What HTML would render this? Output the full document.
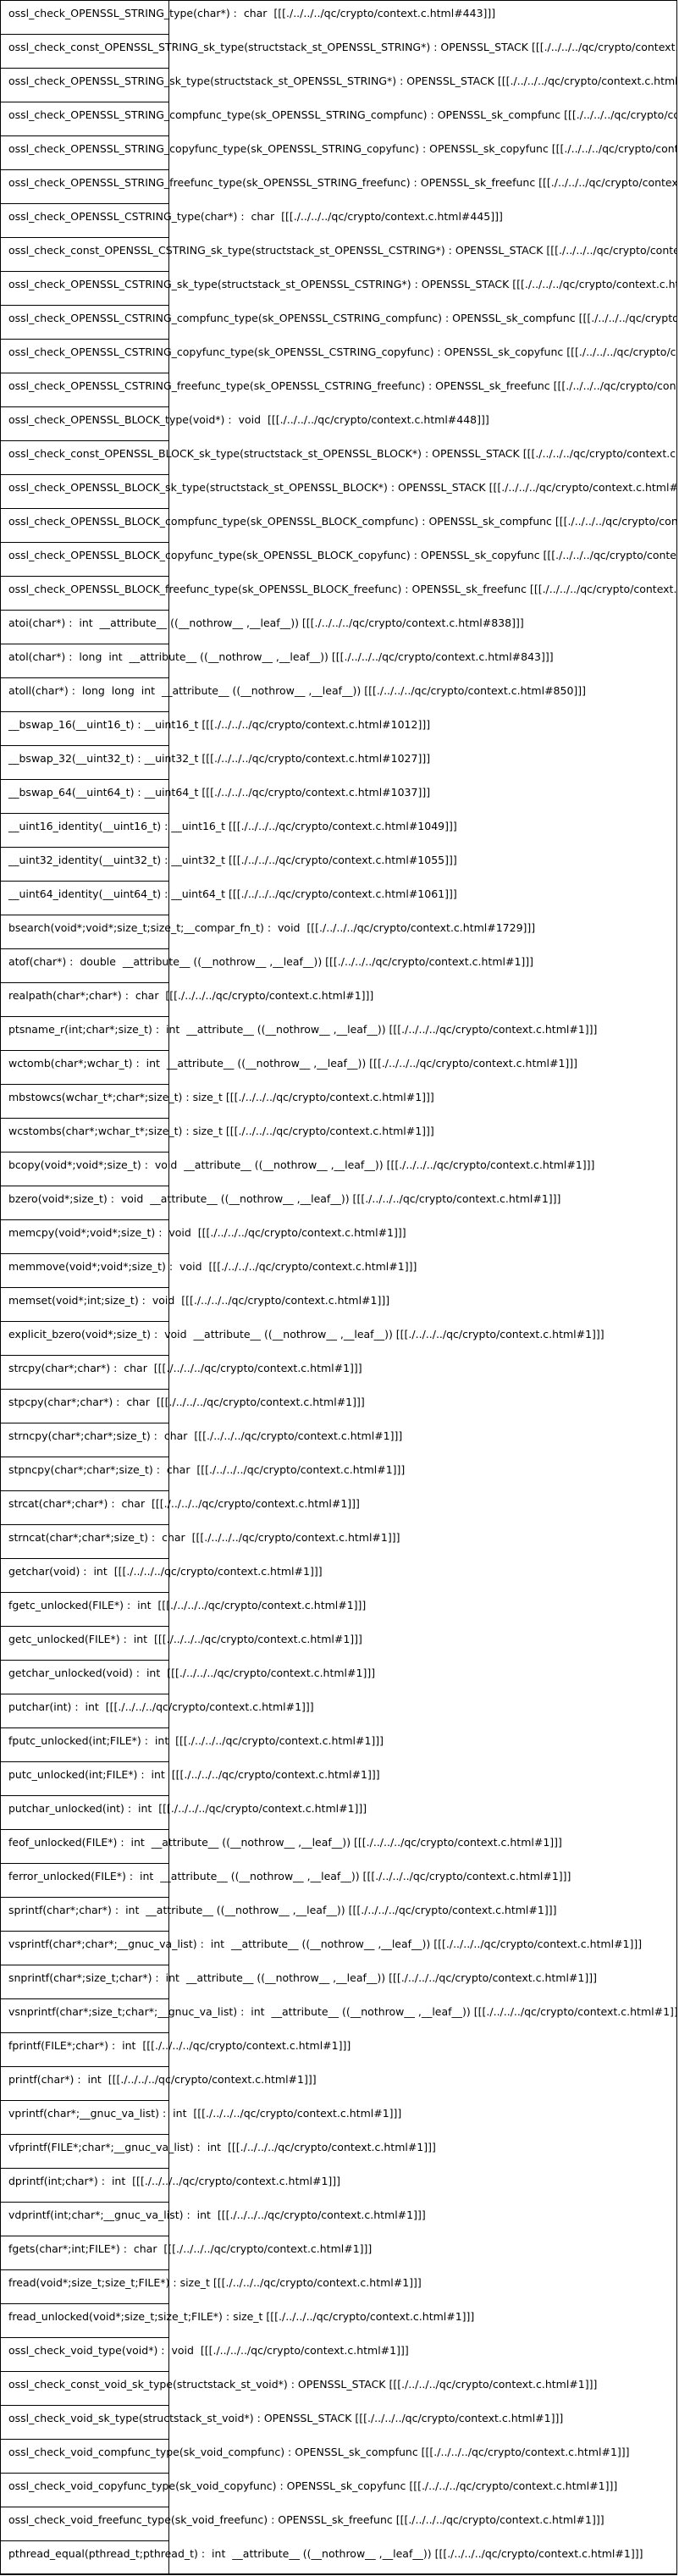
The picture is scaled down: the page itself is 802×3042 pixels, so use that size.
<!DOCTYPE html>
<html><head><meta charset="utf-8"><style>
html,body{margin:0;padding:0;background:#fff;}
#w{position:relative;width:802px;height:3042px;overflow:hidden;}
#outer{position:absolute;left:0;top:0;width:799px;height:3039px;border-right:1px solid #000;border-bottom:2px solid #000;}
#col{position:absolute;left:0;top:0;width:200px;height:3040px;border-right:1px solid #000;border-left:1px solid #000;box-sizing:border-box;}
#txt{position:absolute;left:0;top:0;width:799px;height:3040px;overflow:hidden;}
.t{position:absolute;left:10px;height:14px;line-height:14px;font-family:"DejaVu Sans","Liberation Sans",sans-serif;font-size:12.5px;white-space:pre;color:#000;}
</style></head><body><div id="w">
<div id="outer"></div>
<div id="col"></div>
<div id="txt">
<div class="t" style="top:9px">ossl_check_OPENSSL_STRING_type(char*) :  char  [[[./../../../qc/crypto/context.c.html#443]]]</div>
<div class="t" style="top:49px">ossl_check_const_OPENSSL_STRING_sk_type(structstack_st_OPENSSL_STRING*) : OPENSSL_STACK [[[./../../../qc/crypto/context.c.html#443]]]</div>
<div class="t" style="top:89px">ossl_check_OPENSSL_STRING_sk_type(structstack_st_OPENSSL_STRING*) : OPENSSL_STACK [[[./../../../qc/crypto/context.c.html#443]]]</div>
<div class="t" style="top:129px">ossl_check_OPENSSL_STRING_compfunc_type(sk_OPENSSL_STRING_compfunc) : OPENSSL_sk_compfunc [[[./../../../qc/crypto/context.c.html#443]]]</div>
<div class="t" style="top:169px">ossl_check_OPENSSL_STRING_copyfunc_type(sk_OPENSSL_STRING_copyfunc) : OPENSSL_sk_copyfunc [[[./../../../qc/crypto/context.c.html#443]]]</div>
<div class="t" style="top:209px">ossl_check_OPENSSL_STRING_freefunc_type(sk_OPENSSL_STRING_freefunc) : OPENSSL_sk_freefunc [[[./../../../qc/crypto/context.c.html#443]]]</div>
<div class="t" style="top:249px">ossl_check_OPENSSL_CSTRING_type(char*) :  char  [[[./../../../qc/crypto/context.c.html#445]]]</div>
<div class="t" style="top:289px">ossl_check_const_OPENSSL_CSTRING_sk_type(structstack_st_OPENSSL_CSTRING*) : OPENSSL_STACK [[[./../../../qc/crypto/context.c.html#445]]]</div>
<div class="t" style="top:329px">ossl_check_OPENSSL_CSTRING_sk_type(structstack_st_OPENSSL_CSTRING*) : OPENSSL_STACK [[[./../../../qc/crypto/context.c.html#445]]]</div>
<div class="t" style="top:369px">ossl_check_OPENSSL_CSTRING_compfunc_type(sk_OPENSSL_CSTRING_compfunc) : OPENSSL_sk_compfunc [[[./../../../qc/crypto/context.c.html#445]]]</div>
<div class="t" style="top:409px">ossl_check_OPENSSL_CSTRING_copyfunc_type(sk_OPENSSL_CSTRING_copyfunc) : OPENSSL_sk_copyfunc [[[./../../../qc/crypto/context.c.html#445]]]</div>
<div class="t" style="top:449px">ossl_check_OPENSSL_CSTRING_freefunc_type(sk_OPENSSL_CSTRING_freefunc) : OPENSSL_sk_freefunc [[[./../../../qc/crypto/context.c.html#445]]]</div>
<div class="t" style="top:489px">ossl_check_OPENSSL_BLOCK_type(void*) :  void  [[[./../../../qc/crypto/context.c.html#448]]]</div>
<div class="t" style="top:529px">ossl_check_const_OPENSSL_BLOCK_sk_type(structstack_st_OPENSSL_BLOCK*) : OPENSSL_STACK [[[./../../../qc/crypto/context.c.html#448]]]</div>
<div class="t" style="top:569px">ossl_check_OPENSSL_BLOCK_sk_type(structstack_st_OPENSSL_BLOCK*) : OPENSSL_STACK [[[./../../../qc/crypto/context.c.html#448]]]</div>
<div class="t" style="top:609px">ossl_check_OPENSSL_BLOCK_compfunc_type(sk_OPENSSL_BLOCK_compfunc) : OPENSSL_sk_compfunc [[[./../../../qc/crypto/context.c.html#448]]]</div>
<div class="t" style="top:649px">ossl_check_OPENSSL_BLOCK_copyfunc_type(sk_OPENSSL_BLOCK_copyfunc) : OPENSSL_sk_copyfunc [[[./../../../qc/crypto/context.c.html#448]]]</div>
<div class="t" style="top:689px">ossl_check_OPENSSL_BLOCK_freefunc_type(sk_OPENSSL_BLOCK_freefunc) : OPENSSL_sk_freefunc [[[./../../../qc/crypto/context.c.html#448]]]</div>
<div class="t" style="top:729px">atoi(char*) :  int  __attribute__ ((__nothrow__ ,__leaf__)) [[[./../../../qc/crypto/context.c.html#838]]]</div>
<div class="t" style="top:769px">atol(char*) :  long  int  __attribute__ ((__nothrow__ ,__leaf__)) [[[./../../../qc/crypto/context.c.html#843]]]</div>
<div class="t" style="top:809px">atoll(char*) :  long  long  int  __attribute__ ((__nothrow__ ,__leaf__)) [[[./../../../qc/crypto/context.c.html#850]]]</div>
<div class="t" style="top:849px">__bswap_16(__uint16_t) : __uint16_t [[[./../../../qc/crypto/context.c.html#1012]]]</div>
<div class="t" style="top:889px">__bswap_32(__uint32_t) : __uint32_t [[[./../../../qc/crypto/context.c.html#1027]]]</div>
<div class="t" style="top:929px">__bswap_64(__uint64_t) : __uint64_t [[[./../../../qc/crypto/context.c.html#1037]]]</div>
<div class="t" style="top:969px">__uint16_identity(__uint16_t) : __uint16_t [[[./../../../qc/crypto/context.c.html#1049]]]</div>
<div class="t" style="top:1009px">__uint32_identity(__uint32_t) : __uint32_t [[[./../../../qc/crypto/context.c.html#1055]]]</div>
<div class="t" style="top:1049px">__uint64_identity(__uint64_t) : __uint64_t [[[./../../../qc/crypto/context.c.html#1061]]]</div>
<div class="t" style="top:1089px">bsearch(void*;void*;size_t;size_t;__compar_fn_t) :  void  [[[./../../../qc/crypto/context.c.html#1729]]]</div>
<div class="t" style="top:1129px">atof(char*) :  double  __attribute__ ((__nothrow__ ,__leaf__)) [[[./../../../qc/crypto/context.c.html#1]]]</div>
<div class="t" style="top:1169px">realpath(char*;char*) :  char  [[[./../../../qc/crypto/context.c.html#1]]]</div>
<div class="t" style="top:1209px">ptsname_r(int;char*;size_t) :  int  __attribute__ ((__nothrow__ ,__leaf__)) [[[./../../../qc/crypto/context.c.html#1]]]</div>
<div class="t" style="top:1249px">wctomb(char*;wchar_t) :  int  __attribute__ ((__nothrow__ ,__leaf__)) [[[./../../../qc/crypto/context.c.html#1]]]</div>
<div class="t" style="top:1289px">mbstowcs(wchar_t*;char*;size_t) : size_t [[[./../../../qc/crypto/context.c.html#1]]]</div>
<div class="t" style="top:1329px">wcstombs(char*;wchar_t*;size_t) : size_t [[[./../../../qc/crypto/context.c.html#1]]]</div>
<div class="t" style="top:1369px">bcopy(void*;void*;size_t) :  void  __attribute__ ((__nothrow__ ,__leaf__)) [[[./../../../qc/crypto/context.c.html#1]]]</div>
<div class="t" style="top:1409px">bzero(void*;size_t) :  void  __attribute__ ((__nothrow__ ,__leaf__)) [[[./../../../qc/crypto/context.c.html#1]]]</div>
<div class="t" style="top:1449px">memcpy(void*;void*;size_t) :  void  [[[./../../../qc/crypto/context.c.html#1]]]</div>
<div class="t" style="top:1489px">memmove(void*;void*;size_t) :  void  [[[./../../../qc/crypto/context.c.html#1]]]</div>
<div class="t" style="top:1529px">memset(void*;int;size_t) :  void  [[[./../../../qc/crypto/context.c.html#1]]]</div>
<div class="t" style="top:1569px">explicit_bzero(void*;size_t) :  void  __attribute__ ((__nothrow__ ,__leaf__)) [[[./../../../qc/crypto/context.c.html#1]]]</div>
<div class="t" style="top:1609px">strcpy(char*;char*) :  char  [[[./../../../qc/crypto/context.c.html#1]]]</div>
<div class="t" style="top:1649px">stpcpy(char*;char*) :  char  [[[./../../../qc/crypto/context.c.html#1]]]</div>
<div class="t" style="top:1689px">strncpy(char*;char*;size_t) :  char  [[[./../../../qc/crypto/context.c.html#1]]]</div>
<div class="t" style="top:1729px">stpncpy(char*;char*;size_t) :  char  [[[./../../../qc/crypto/context.c.html#1]]]</div>
<div class="t" style="top:1769px">strcat(char*;char*) :  char  [[[./../../../qc/crypto/context.c.html#1]]]</div>
<div class="t" style="top:1809px">strncat(char*;char*;size_t) :  char  [[[./../../../qc/crypto/context.c.html#1]]]</div>
<div class="t" style="top:1849px">getchar(void) :  int  [[[./../../../qc/crypto/context.c.html#1]]]</div>
<div class="t" style="top:1889px">fgetc_unlocked(FILE*) :  int  [[[./../../../qc/crypto/context.c.html#1]]]</div>
<div class="t" style="top:1929px">getc_unlocked(FILE*) :  int  [[[./../../../qc/crypto/context.c.html#1]]]</div>
<div class="t" style="top:1969px">getchar_unlocked(void) :  int  [[[./../../../qc/crypto/context.c.html#1]]]</div>
<div class="t" style="top:2009px">putchar(int) :  int  [[[./../../../qc/crypto/context.c.html#1]]]</div>
<div class="t" style="top:2049px">fputc_unlocked(int;FILE*) :  int  [[[./../../../qc/crypto/context.c.html#1]]]</div>
<div class="t" style="top:2089px">putc_unlocked(int;FILE*) :  int  [[[./../../../qc/crypto/context.c.html#1]]]</div>
<div class="t" style="top:2129px">putchar_unlocked(int) :  int  [[[./../../../qc/crypto/context.c.html#1]]]</div>
<div class="t" style="top:2169px">feof_unlocked(FILE*) :  int  __attribute__ ((__nothrow__ ,__leaf__)) [[[./../../../qc/crypto/context.c.html#1]]]</div>
<div class="t" style="top:2209px">ferror_unlocked(FILE*) :  int  __attribute__ ((__nothrow__ ,__leaf__)) [[[./../../../qc/crypto/context.c.html#1]]]</div>
<div class="t" style="top:2249px">sprintf(char*;char*) :  int  __attribute__ ((__nothrow__ ,__leaf__)) [[[./../../../qc/crypto/context.c.html#1]]]</div>
<div class="t" style="top:2289px">vsprintf(char*;char*;__gnuc_va_list) :  int  __attribute__ ((__nothrow__ ,__leaf__)) [[[./../../../qc/crypto/context.c.html#1]]]</div>
<div class="t" style="top:2329px">snprintf(char*;size_t;char*) :  int  __attribute__ ((__nothrow__ ,__leaf__)) [[[./../../../qc/crypto/context.c.html#1]]]</div>
<div class="t" style="top:2369px">vsnprintf(char*;size_t;char*;__gnuc_va_list) :  int  __attribute__ ((__nothrow__ ,__leaf__)) [[[./../../../qc/crypto/context.c.html#1]]]</div>
<div class="t" style="top:2409px">fprintf(FILE*;char*) :  int  [[[./../../../qc/crypto/context.c.html#1]]]</div>
<div class="t" style="top:2449px">printf(char*) :  int  [[[./../../../qc/crypto/context.c.html#1]]]</div>
<div class="t" style="top:2489px">vprintf(char*;__gnuc_va_list) :  int  [[[./../../../qc/crypto/context.c.html#1]]]</div>
<div class="t" style="top:2529px">vfprintf(FILE*;char*;__gnuc_va_list) :  int  [[[./../../../qc/crypto/context.c.html#1]]]</div>
<div class="t" style="top:2569px">dprintf(int;char*) :  int  [[[./../../../qc/crypto/context.c.html#1]]]</div>
<div class="t" style="top:2609px">vdprintf(int;char*;__gnuc_va_list) :  int  [[[./../../../qc/crypto/context.c.html#1]]]</div>
<div class="t" style="top:2649px">fgets(char*;int;FILE*) :  char  [[[./../../../qc/crypto/context.c.html#1]]]</div>
<div class="t" style="top:2689px">fread(void*;size_t;size_t;FILE*) : size_t [[[./../../../qc/crypto/context.c.html#1]]]</div>
<div class="t" style="top:2729px">fread_unlocked(void*;size_t;size_t;FILE*) : size_t [[[./../../../qc/crypto/context.c.html#1]]]</div>
<div class="t" style="top:2769px">ossl_check_void_type(void*) :  void  [[[./../../../qc/crypto/context.c.html#1]]]</div>
<div class="t" style="top:2809px">ossl_check_const_void_sk_type(structstack_st_void*) : OPENSSL_STACK [[[./../../../qc/crypto/context.c.html#1]]]</div>
<div class="t" style="top:2849px">ossl_check_void_sk_type(structstack_st_void*) : OPENSSL_STACK [[[./../../../qc/crypto/context.c.html#1]]]</div>
<div class="t" style="top:2889px">ossl_check_void_compfunc_type(sk_void_compfunc) : OPENSSL_sk_compfunc [[[./../../../qc/crypto/context.c.html#1]]]</div>
<div class="t" style="top:2929px">ossl_check_void_copyfunc_type(sk_void_copyfunc) : OPENSSL_sk_copyfunc [[[./../../../qc/crypto/context.c.html#1]]]</div>
<div class="t" style="top:2969px">ossl_check_void_freefunc_type(sk_void_freefunc) : OPENSSL_sk_freefunc [[[./../../../qc/crypto/context.c.html#1]]]</div>
<div class="t" style="top:3009px">pthread_equal(pthread_t;pthread_t) :  int  __attribute__ ((__nothrow__ ,__leaf__)) [[[./../../../qc/crypto/context.c.html#1]]]</div>
</div>
<svg style="position:absolute;left:0;top:0" width="802" height="3042">
<g stroke="#000" stroke-width="1" shape-rendering="crispEdges">
<line x1="0" y1="0.5" x2="800" y2="0.5"/>
<path d="M0 40.5H200M0 80.5H200M0 120.5H200M0 160.5H200M0 200.5H200M0 240.5H200M0 280.5H200M0 320.5H200M0 360.5H200M0 400.5H200M0 440.5H200M0 480.5H200M0 520.5H200M0 560.5H200M0 600.5H200M0 640.5H200M0 680.5H200M0 720.5H200M0 760.5H200M0 800.5H200M0 840.5H200M0 880.5H200M0 920.5H200M0 960.5H200M0 1000.5H200M0 1040.5H200M0 1080.5H200M0 1120.5H200M0 1160.5H200M0 1200.5H200M0 1240.5H200M0 1280.5H200M0 1320.5H200M0 1360.5H200M0 1400.5H200M0 1440.5H200M0 1480.5H200M0 1520.5H200M0 1560.5H200M0 1600.5H200M0 1640.5H200M0 1680.5H200M0 1720.5H200M0 1760.5H200M0 1800.5H200M0 1840.5H200M0 1880.5H200M0 1920.5H200M0 1960.5H200M0 2000.5H200M0 2040.5H200M0 2080.5H200M0 2120.5H200M0 2160.5H200M0 2200.5H200M0 2240.5H200M0 2280.5H200M0 2320.5H200M0 2360.5H200M0 2400.5H200M0 2440.5H200M0 2480.5H200M0 2520.5H200M0 2560.5H200M0 2600.5H200M0 2640.5H200M0 2680.5H200M0 2720.5H200M0 2760.5H200M0 2800.5H200M0 2840.5H200M0 2880.5H200M0 2920.5H200M0 2960.5H200M0 3000.5H200"/>
</g>
</svg>
</div></body></html>
